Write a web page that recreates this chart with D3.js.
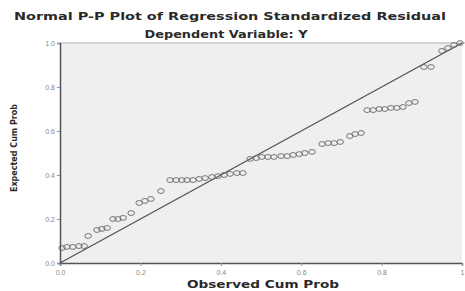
<!DOCTYPE html>
<meta charset="utf-8">
<style>
body { margin: 0; background: #fff; }
text { font-family: "Liberation Sans", Arial, sans-serif; }
.title { font-family: "DejaVu Sans", sans-serif; font-weight: bold; fill: #2a2a2a; }
.tick text { fill: #888; font-size: 7px; }
</style>
<body>
<svg width="465" height="291"></svg>
<script src="https://cdnjs.cloudflare.com/ajax/libs/d3/7.8.5/d3.min.js"></script>
<script>

// observed cumulative probability (x) / expected cumulative probability (y)
var observed = [0.005, 0.017, 0.032, 0.047, 0.060, 0.070, 0.092, 0.104, 0.117, 0.132,
  0.144, 0.157, 0.177, 0.197, 0.211, 0.226, 0.251, 0.274, 0.289, 0.303,
  0.316, 0.331, 0.346, 0.361, 0.378, 0.393, 0.408, 0.423, 0.440, 0.455,
  0.473, 0.488, 0.502, 0.517, 0.532, 0.550, 0.565, 0.580, 0.595, 0.609,
  0.627, 0.652, 0.667, 0.682, 0.697, 0.721, 0.734, 0.749, 0.764, 0.779,
  0.794, 0.808, 0.823, 0.838, 0.853, 0.868, 0.883, 0.905, 0.923, 0.950,
  0.965, 0.980, 0.995];
var expected = [0.068, 0.073, 0.073, 0.077, 0.077, 0.123, 0.150, 0.155, 0.159, 0.200,
  0.200, 0.205, 0.227, 0.273, 0.282, 0.291, 0.327, 0.377, 0.377, 0.377,
  0.377, 0.377, 0.382, 0.386, 0.391, 0.395, 0.400, 0.405, 0.409, 0.409,
  0.473, 0.477, 0.482, 0.482, 0.482, 0.486, 0.486, 0.491, 0.495, 0.500,
  0.505, 0.541, 0.545, 0.545, 0.550, 0.577, 0.586, 0.591, 0.695, 0.695,
  0.700, 0.700, 0.705, 0.705, 0.709, 0.727, 0.732, 0.891, 0.891, 0.964,
  0.977, 0.991, 1.000];

var xTicks = [0, 0.2, 0.4, 0.6, 0.8, 1];
var xTickLabels = ["0.0", "0.2", "0.4", "0.6", "0.8", "1"];
var yTicks = [0, 0.2, 0.4, 0.6, 0.8, 1];
var yTickLabels = ["0.0", "0.2", "0.4", "0.6", "0.8", "1.0"];

var svg = d3.select("svg");
var plotLeft = 60, plotRight = 462, plotTop = 43, plotBottom = 263;

var x = d3.scaleLinear().domain([0, 1]).range([plotLeft, plotRight]);
var y = d3.scaleLinear().domain([0, 1]).range([plotBottom, plotTop]);

// plot background
svg.append("rect")
    .attr("x", plotLeft).attr("y", plotTop)
    .attr("width", plotRight - plotLeft).attr("height", plotBottom - plotTop)
    .attr("fill", "#efefef");

svg.append("line")
    .attr("x1", plotLeft).attr("x2", plotRight + 3)
    .attr("y1", plotTop).attr("y2", plotTop)
    .attr("stroke", "#c8c8c8").attr("stroke-width", 1.5);

// axes
var xAxis = d3.axisBottom(x).tickValues(xTicks).tickSize(3)
    .tickFormat(function(d, i) { return xTickLabels[i]; });
var yAxis = d3.axisLeft(y).tickValues(yTicks).tickSize(3)
    .tickFormat(function(d, i) { return yTickLabels[i]; });

var gx = svg.append("g").attr("transform", "translate(0," + plotBottom + ")").call(xAxis);
var gy = svg.append("g").attr("transform", "translate(" + plotLeft + ",0)").call(yAxis);
[gx, gy].forEach(function(g) {
  g.select(".domain").attr("stroke", "#555").attr("stroke-width", 1.5);
  g.selectAll(".tick line").attr("stroke", "#999");
});
gx.selectAll(".tick text").attr("dy", "0.8em");
gy.selectAll(".tick text").attr("x", -5);

// reference diagonal
svg.append("line")
    .attr("x1", x(0)).attr("y1", y(0))
    .attr("x2", x(1)).attr("y2", y(1))
    .attr("stroke", "#555").attr("stroke-width", 1.4);

// points
svg.append("g").selectAll("ellipse")
    .data(observed)
    .enter().append("ellipse")
      .attr("cx", function(d) { return x(d); })
      .attr("cy", function(d, i) { return y(expected[i]); })
      .attr("rx", 3.3).attr("ry", 2.4)
      .attr("fill", "none")
      .attr("stroke", "#666")
      .attr("stroke-width", 0.9);

// titles
svg.append("text").attr("class", "title")
    .attr("x", 230).attr("y", 20)
    .attr("text-anchor", "middle").attr("font-size", 10)
    .attr("textLength", 432).attr("lengthAdjust", "spacingAndGlyphs")
    .text("Normal P-P Plot of Regression Standardized Residual");
svg.append("text").attr("class", "title")
    .attr("x", 226).attr("y", 38)
    .attr("text-anchor", "middle").attr("font-size", 10)
    .attr("textLength", 163).attr("lengthAdjust", "spacingAndGlyphs")
    .text("Dependent Variable: Y");
svg.append("text").attr("class", "title")
    .attr("x", 263).attr("y", 288)
    .attr("text-anchor", "middle").attr("font-size", 10)
    .attr("textLength", 152).attr("lengthAdjust", "spacingAndGlyphs")
    .text("Observed Cum Prob");
svg.append("text").attr("class", "title")
    .attr("transform", "translate(17,148) rotate(-90)")
    .attr("text-anchor", "middle").attr("font-size", 8.5)
    .attr("textLength", 88).attr("lengthAdjust", "spacingAndGlyphs")
    .text("Expected Cum Prob");

</script>
</body>
